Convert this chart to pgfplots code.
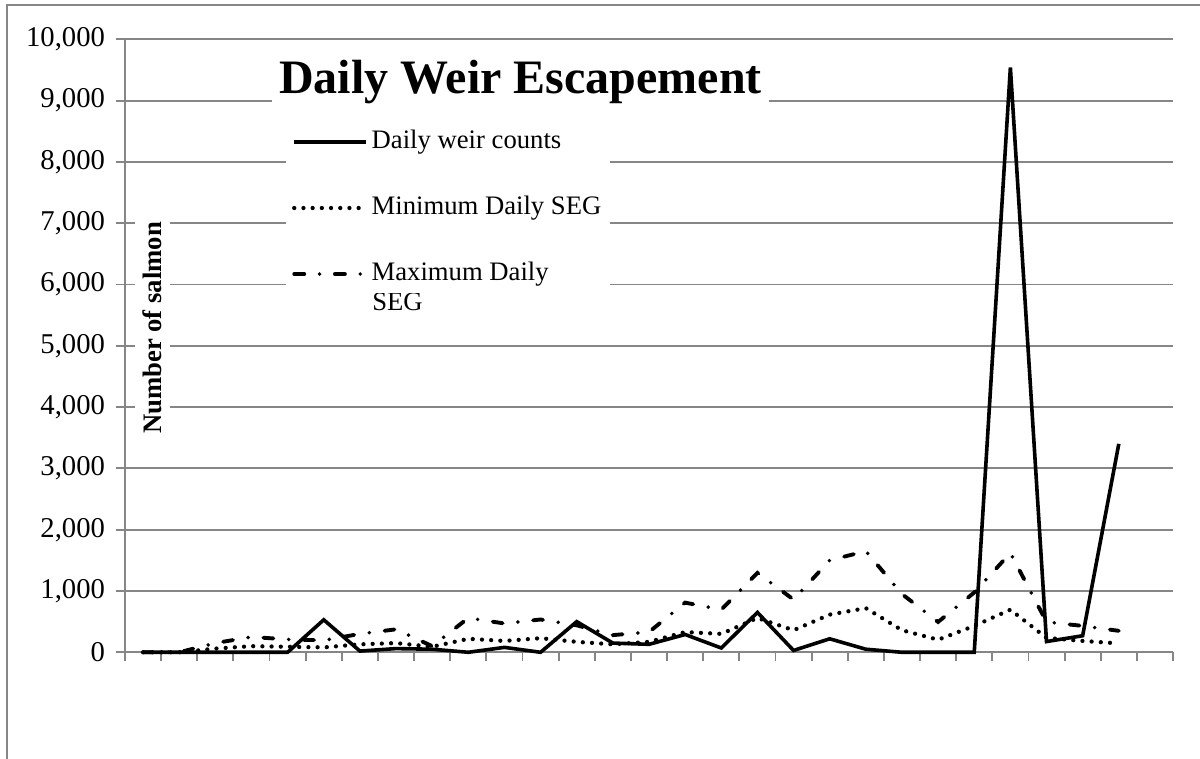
\documentclass[border=0pt]{standalone}
\usepackage{pgfplots}
\pgfplotsset{compat=1.18}
\usepackage{fontspec}
\setmainfont{Liberation Serif}
\definecolor{gridgray}{RGB}{134,134,134}
\pgfplotstableread{
x weir minseg maxseg
0 0 0 0
1 0 0 0
2 0 60 150
3 0 100 250
4 0 90 210
5 530 80 195
6 20 130 300
7 60 150 375
8 50 90 100
9 0 220 560
10 80 185 470
11 0 230 535
12 500 170 440
13 150 130 280
14 130 170 330
15 290 330 810
16 70 300 695
17 650 560 1295
18 30 360 860
19 220 615 1500
20 50 720 1650
21 0 360 950
22 0 205 495
23 0 430 975
24 9540 695 1620
25 175 235 495
26 270 185 430
27 3400 145 350
}\datatable
\begin{document}
\begin{tikzpicture}
\useasboundingbox (0,0) rectangle (900pt,569.25pt);
\draw[gridgray, line width=1.4pt] (5pt,-20pt) -- (5pt,565.3pt) -- (920pt,565.3pt);
\begin{axis}[
  at={(93.75pt,80.03pt)}, anchor=south west,
  scale only axis, width=786pt, height=459.75pt,
  xmin=-0.5, xmax=28.5, ymin=0, ymax=10000,
  axis lines=left, axis line style={-, gridgray, line width=1.4pt},
  xtick={-0.5,0.5,...,28.5}, xticklabels={},
  ytick={0,1000,...,10000},
  tick align=outside, major tick length=6.5pt,
  tick style={gridgray, line width=1.4pt},
  ymajorgrids, grid style={gridgray, line width=1.4pt},
  yticklabel style={font=\fontsize{21.5}{24}\selectfont, xshift=-5pt},
  /pgf/number format/.cd, 1000 sep={,}, assume math mode=true, /pgfplots/.cd,
  scaled y ticks=false,
  clip=false,
  ylabel={\textbf{Number of salmon}},
  ylabel style={at={(rel axis cs:0.0262,0.529)}, anchor=center, fill=white, inner sep=6pt, font=\fontsize{20}{24}\selectfont},
  legend cell align=left,
  legend image code/.code={\draw[#1] (0pt,0pt) -- (53.5pt,0pt);},
  legend style={at={(rel axis cs:0.1536,0.8644)}, anchor=north west, draw=none, fill=white,
    inner xsep=4.4pt, inner ysep=3pt, row sep=26.5pt, column sep=1pt,
    font=\fontsize{20}{23}\selectfont,
    nodes={inner sep=2pt, text height=14pt, text depth=5pt}},
]
\addplot[black, line width=2.7pt, line join=miter] table[x=x, y=weir] {\datatable};
\addlegendentry{Daily weir counts}
\addplot[black, line width=3.2pt, line cap=round, dash pattern=on 0pt off 6.9pt] table[x=x, y=minseg] {\datatable};
\addlegendentry{Minimum Daily SEG}
\addplot[black, line width=2.9pt, line cap=round, dash pattern=on 7.5pt off 11.5pt on 0pt off 11.5pt] table[x=x, y=maxseg] {\datatable};
\addlegendentry{Maximum Daily}
\node[anchor=base west, inner sep=0pt, font=\fontsize{20}{23}\selectfont] at (rel axis cs:0.2357,0.5577) {SEG};
\node[anchor=base, fill=white, inner xsep=5.5pt, inner ysep=2pt, font=\fontsize{36}{40}\selectfont\bfseries] at (rel axis cs:0.3774,0.9119) {Daily Weir Escapement};
\end{axis}
\end{tikzpicture}
\end{document}
